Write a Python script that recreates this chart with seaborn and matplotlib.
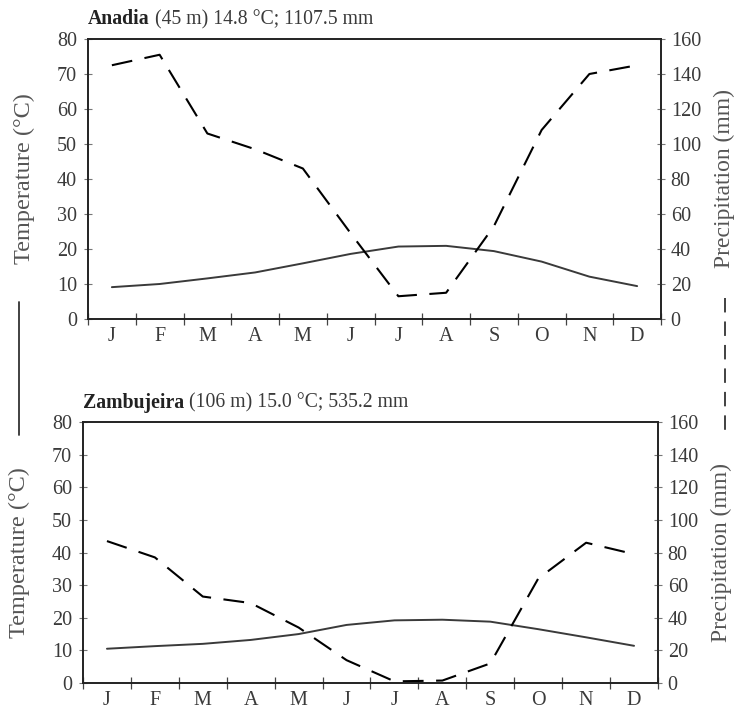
import numpy as np
import pandas as pd
import matplotlib
matplotlib.use("Agg")
import matplotlib.pyplot as plt
import seaborn as sns
from matplotlib.lines import Line2D

months = ["J", "F", "M", "A", "M", "J", "J", "A", "S", "O", "N", "D"]

anadia_temp = [9.1, 10.0, 11.6, 13.3, 15.9, 18.6, 20.7, 20.9, 19.4, 16.4, 12.1, 9.4]
anadia_prec = [145, 151, 106, 97, 86, 49, 13, 15, 53, 108, 140, 145]
zamb_temp = [10.5, 11.3, 12.0, 13.2, 15.0, 17.8, 19.2, 19.4, 18.8, 16.5, 14.0, 11.4]
zamb_prec = [87, 77, 53, 49, 34, 14, 1, 1.5, 12, 64, 86, 79]

stations = [
    ("Anadia", " (45 m) 14.8 °C; 1107.5 mm", anadia_temp, anadia_prec),
    ("Zambujeira", " (106 m) 15.0 °C; 535.2 mm", zamb_temp, zamb_prec),
]
temp_ticks = [0, 10, 20, 30, 40, 50, 60, 70, 80]
prec_ticks = [0, 20, 40, 60, 80, 100, 120, 140, 160]

sns.set_theme(style="white")
plt.rcParams["font.family"] = ["Liberation Serif", "DejaVu Serif"]
plt.rcParams["mathtext.fontset"] = "stix"

W, H = 737, 715
fig = plt.figure(figsize=(W / 100, H / 100), dpi=100)

boxes = [
    (88, 39, 661, 319),
    (83, 422, 658, 683),
]

TXT = "#3a3a3a"
LBL = "#555555"
TS = 14.5

for (name, rest, temp, prec), (x0, y0, x1, y1) in zip(stations, boxes):
    ax = fig.add_axes([x0 / W, 1 - y1 / H, (x1 - x0) / W, (y1 - y0) / H])
    ax2 = ax.twinx()
    df = pd.DataFrame({"m": np.arange(12), "temp": temp, "prec": prec})
    sns.lineplot(data=df, x="m", y="temp", ax=ax, color="#3a3a3a", lw=1.4)
    sns.lineplot(data=df, x="m", y="prec", ax=ax2, color="black", lw=1.5,
                 dashes=False)
    ax2.lines[0].set_dashes([10, 6])
    ax.set_xlim(-0.5, 11.5)
    ax.set_ylim(0, 80)
    ax2.set_ylim(0, 160)
    ax.set_yticks(temp_ticks)
    ax.set_yticklabels([str(t) for t in temp_ticks])
    ax2.set_yticks(prec_ticks)
    ax2.set_yticklabels([str(t) for t in prec_ticks])
    ax.set_xticks(np.arange(-0.5, 12, 1))
    ax.set_xticklabels([])
    ax.set_xticks(np.arange(12), minor=True)
    ax.set_xticklabels(months, minor=True)
    ax.tick_params(axis="x", which="major", direction="inout", length=9,
                   width=0.9, color="#444444", bottom=True)
    ax.tick_params(axis="x", which="minor", length=0, pad=6,
                   labelsize=TS, labelcolor=TXT, bottom=True)
    ax.tick_params(axis="y", direction="inout", length=6, width=0.8,
                   color="#777777", left=True, labelsize=TS,
                   labelcolor=TXT, pad=5)
    ax2.tick_params(axis="y", direction="inout", length=6, width=0.8,
                    color="#777777", right=True, labelsize=TS,
                    labelcolor=TXT, pad=4)
    ax.set_xlabel("")
    ax.set_ylabel("Temperature (°C)", fontsize=17.5, color=LBL, labelpad=16)
    ax2.set_ylabel("Precipitation (mm)", fontsize=17, color=LBL, labelpad=9)
    for a in (ax, ax2):
        for s in a.spines.values():
            s.set_color("#222222")
            s.set_linewidth(1.2)
    ax.text(0.0, 1.035, name, transform=ax.transAxes, fontsize=14.2,
            fontweight="bold", color="#222222", va="bottom", ha="left")
    tx = ax.texts[-1]
    fig.canvas.draw()
    bb = tx.get_window_extent()
    inv = ax.transAxes.inverted()
    xe = inv.transform((bb.x1, bb.y0))[0]
    ax.text(xe, 1.035, rest, transform=ax.transAxes, fontsize=14.2,
            color=TXT, va="bottom", ha="left")

# line-style keys
fig.add_artist(Line2D([19 / W, 19 / W], [1 - 302 / H, 1 - 435 / H],
                      color="#333333", lw=1.3))
fig.add_artist(Line2D([725 / W, 725 / W], [1 - 298 / H, 1 - 430 / H],
                      color="#333333", lw=1.3, dashes=[8, 5]))

fig.savefig("out.png", dpi=100)
